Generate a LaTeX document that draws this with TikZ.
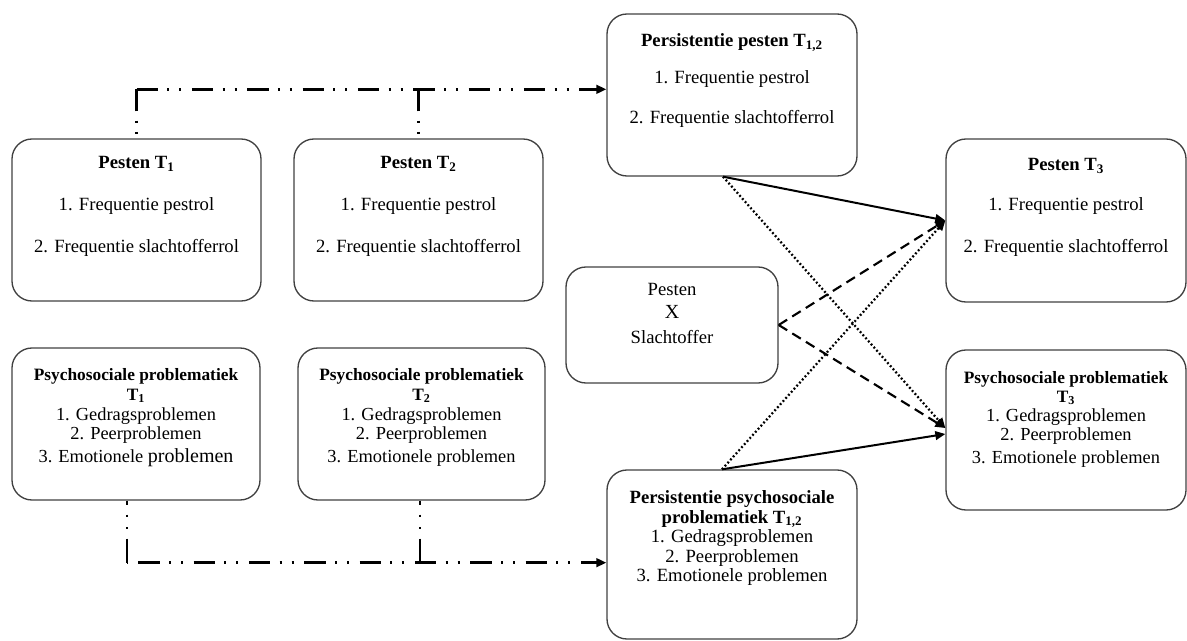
\documentclass[tikz,border=0pt]{standalone}
\usepackage{fontspec}
\setmainfont{Liberation Serif}
\usetikzlibrary{arrows.meta,calc}
\begin{document}
\begin{tikzpicture}[x=0.75pt,y=-0.75pt,
  box/.style={draw=black!75, line width=1pt, rounded corners=15pt, inner sep=0pt},
  big/.style={font=\fontsize{14}{16}\selectfont, anchor=base, inner sep=0pt},
  sml/.style={font=\fontsize{13.8}{15}\selectfont, anchor=base, inner sep=0pt},
  ttl/.style={font=\fontsize{13}{15}\selectfont\bfseries, anchor=base, inner sep=0pt},
  tip/.style={-{Triangle[length=7.5pt,width=6.5pt]}},
  ddline/.style={line width=1.8pt, dash pattern=on 16pt off 7pt on 1.5pt off 7.5pt on 1.5pt off 8pt},
  dotv/.style={line width=1.8pt, dash pattern=on 0pt off 7pt on 1.5pt off 7pt on 1.5pt off 20pt},
  dotvb/.style={line width=1.8pt, dash pattern=on 3pt off 7.5pt on 1.5pt off 8pt on 1.5pt off 10pt},
  solidv/.style={line width=2pt},
  solidarrow/.style={tip, line width=1.5pt},
  dotarrow/.style={tip, line width=1.7pt, dash pattern=on 1.4pt off 1.7pt},
  dasharrow/.style={tip, line width=1.6pt, dash pattern=on 7.5pt off 4.5pt}]
\useasboundingbox (0,0) rectangle (1187,641);

% boxes
\node[box, minimum width=186.75pt, minimum height=121.5pt] (P1) at (136.5,220) {};
\node[box, minimum width=186.75pt, minimum height=121.5pt] (P2) at (418.5,220) {};
\node[box, minimum width=186pt, minimum height=114pt] (PS1) at (136,424) {};
\node[box, minimum width=185.25pt, minimum height=114pt] (PS2) at (421.5,424) {};
\node[box, minimum width=187.5pt, minimum height=121.5pt] (PP) at (732,95) {};
\node[box, minimum width=180pt, minimum height=122.25pt] (P3) at (1066,220.5) {};
\node[box, minimum width=180pt, minimum height=120pt] (PS3) at (1066,430) {};
\node[box, minimum width=159pt, minimum height=87pt] (PX) at (672,325) {};
\node[box, minimum width=187.5pt, minimum height=126.75pt] (PPS) at (732,554.5) {};

% texts: Pesten T1
\node[big] (p1a) at (136.5,169) {\textbf{Pesten T\textsubscript{1}}};
\node[big] (p1b) at (136.5,211) {1. Frequentie pestrol};
\node[big] (p1c) at (136.5,253) {2. Frequentie slachtofferrol};
% Pesten T2
\node[big] (p2a) at (418.5,169) {\textbf{Pesten T\textsubscript{2}}};
\node[big] (p2b) at (418.5,211) {1. Frequentie pestrol};
\node[big] (p2c) at (418.5,253) {2. Frequentie slachtofferrol};
% Persistentie pesten
\node[big] (ppa) at (732,47) {\textbf{Persistentie pesten T\textsubscript{1,2}}};
\node[big] (ppb) at (732,84) {1. Frequentie pestrol};
\node[big] (ppc) at (732,124) {2. Frequentie slachtofferrol};
% Pesten T3
\node[big] (p3a) at (1066,171) {\textbf{Pesten T\textsubscript{3}}};
\node[big] (p3b) at (1066,211) {1. Frequentie pestrol};
\node[big] (p3c) at (1066,253) {2. Frequentie slachtofferrol};
% Pesten X Slachtoffer
\node[big] (pxa) at (672,296) {Pesten};
\node[big, font=\fontsize{15}{16}\selectfont] (pxb) at (672,319) {X};
\node[big] (pxc) at (672,343) {Slachtoffer};
% Psychosociale T1
\node[ttl] (ps1a) at (136,380) {Psychosociale problematiek};
\node[ttl] (ps1b) at (136,400) {T\textsubscript{1}};
\node[sml] (ps1c) at (136,420) {1. Gedragsproblemen};
\node[sml] (ps1d) at (136,439) {2. Peerproblemen};
\node[sml] (ps1e) at (136,462) {3. Emotionele {\fontsize{15}{16}\selectfont problemen}};
% Psychosociale T2
\node[ttl] (ps2a) at (421.5,380) {Psychosociale problematiek};
\node[ttl] (ps2b) at (421.5,400) {T\textsubscript{2}};
\node[sml] (ps2c) at (421.5,420) {1. Gedragsproblemen};
\node[sml] (ps2d) at (421.5,439) {2. Peerproblemen};
\node[sml] (ps2e) at (421.5,462) {3. Emotionele problemen};
% Psychosociale T3
\node[ttl] (ps3a) at (1066,383) {Psychosociale problematiek};
\node[ttl] (ps3b) at (1066,402) {T\textsubscript{3}};
\node[sml] (ps3c) at (1066,421) {1. Gedragsproblemen};
\node[sml] (ps3d) at (1066,440) {2. Peerproblemen};
\node[sml] (ps3e) at (1066,463) {3. Emotionele problemen};
% Persistentie psychosociale
\node[big] (ppsa) at (732,503) {\textbf{Persistentie psychosociale}};
\node[big] (ppsb) at (732,523) {\textbf{problematiek T\textsubscript{1,2}}};
\node[big] (ppsc) at (732,542) {1. Gedragsproblemen};
\node[big] (ppsd) at (732,562) {2. Peerproblemen};
\node[big] (ppse) at (732,581) {3. Emotionele problemen};

% top connector
\coordinate (t1) at ($(P1.north)+(0,-27)$);
\coordinate (t1c) at ($(P1.north)+(0,-49)$);
\coordinate (t2) at ($(P2.north)+(0,-27)$);
\coordinate (t2c) at ($(P2.north)+(0,-49)$);
\draw[dotv] (t1) -- (P1.north);
\draw[dotv] (t2) -- (P2.north);
\draw[solidv] (t1) -- (t1c);
\draw[solidv] (t2) -- (t2c);
\draw[ddline, tip] (t1c) -- (t1c -| PP.west);

% bottom connector
\coordinate (s1) at ($(PS1.south)+(-9,0)$);
\coordinate (b1) at ($(PS1.south)+(-9,38)$);
\coordinate (b1c) at ($(PS1.south)+(-9,62)$);
\coordinate (s2) at ($(PS2.south)+(-1.5,0)$);
\coordinate (b2) at ($(PS2.south)+(-1.5,38)$);
\coordinate (b2c) at ($(PS2.south)+(-1.5,62)$);
\draw[dotvb] (s1) -- (b1);
\draw[dotvb] (s2) -- (b2);
\draw[solidv] (b1) -- (b1c);
\draw[solidv] (b2) -- (b2c);
\draw[ddline, dash phase=33pt, tip] (b1c) -- (b1c -| PPS.west);

% diagonal arrows
\coordinate (ppout) at ($(PP.south)+(-9,0)$);
\coordinate (ppsout) at ($(PPS.north)+(-10,0)$);
\coordinate (ps3in) at ($(PS3.west)+(0,-2)$);
\coordinate (ps3inb) at ($(PS3.west)+(0,4)$);
\draw[solidarrow] (ppout) -- (P3.west);
\draw[dotarrow] (ppout) -- (ps3in);
\draw[dasharrow] (PX.east) -- (P3.west);
\draw[dasharrow] (PX.east) -- (ps3in);
\draw[dotarrow] (ppsout) -- (P3.west);
\draw[solidarrow] (ppsout) -- (ps3inb);
\end{tikzpicture}
\end{document}
